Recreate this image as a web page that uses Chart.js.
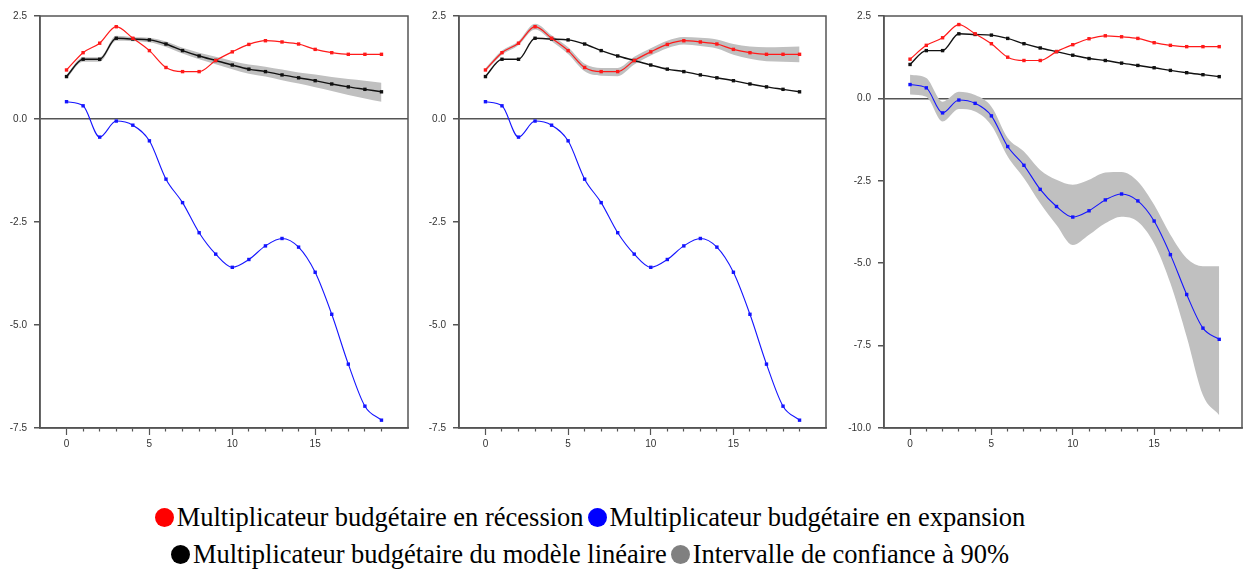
<!DOCTYPE html>
<html>
<head>
<meta charset="utf-8">
<script src="https://cdn.jsdelivr.net/npm/chart.js@4.4.1/dist/chart.umd.min.js"></script>
<style>
  body { margin: 0; background: #fff; width: 1246px; height: 569px; position: relative; overflow: hidden; }
  canvas.panel { position: absolute; top: 0; }
  #legend { position: absolute; left: 0; top: 499px; width: 1180px; font-family: "Liberation Serif", "Times New Roman", serif; font-size: 26.5px; color: #000; }
  #legend .row { display: flex; justify-content: center; align-items: center; height: 37px; white-space: nowrap; }
  #legend .item { display: flex; align-items: center; margin: 0 2px; }
  #legend .dot { width: 19px; height: 19px; border-radius: 50%; margin-right: 3px; }
</style>
</head>
<body>

<canvas class="panel" id="chart1" width="412" height="460" style="left:0px"></canvas>
<canvas class="panel" id="chart2" width="411" height="460" style="left:419px"></canvas>
<canvas class="panel" id="chart3" width="406" height="460" style="left:840px"></canvas>

<div id="legend">
  <div class="row">
    <div class="item"><span class="dot" style="background:#ff0000"></span>Multiplicateur budgétaire en récession</div>
    <div class="item"><span class="dot" style="background:#0000ff"></span>Multiplicateur budgétaire en expansion</div>
  </div>
  <div class="row">
    <div class="item"><span class="dot" style="background:#000000"></span>Multiplicateur budgétaire du modèle linéaire</div>
    <div class="item"><span class="dot" style="background:#808080"></span>Intervalle de confiance à 90%</div>
  </div>
</div>

<script>
  // horizons (quarters after the shock)
  const horizons = [0, 1, 2, 3, 4, 5, 6, 7, 8, 9, 10, 11, 12, 13, 14, 15, 16, 17, 18, 19];

  // multiplier estimates
  const recession = [1.19, 1.61, 1.84, 2.24, 1.96, 1.66, 1.25, 1.15, 1.15, 1.42, 1.63, 1.81, 1.90, 1.87, 1.82, 1.69, 1.61, 1.57, 1.57, 1.57];
  const expansion = [0.42, 0.32, -0.44, -0.05, -0.15, -0.53, -1.46, -2.03, -2.76, -3.28, -3.60, -3.41, -3.08, -2.90, -3.11, -3.72, -4.74, -5.95, -6.97, -7.31];
  const linear = [1.03, 1.45, 1.45, 1.96, 1.94, 1.92, 1.82, 1.66, 1.53, 1.42, 1.31, 1.21, 1.15, 1.07, 1.00, 0.93, 0.85, 0.78, 0.72, 0.66];

  // 90% confidence bounds
  const linearHi = [1.07, 1.50, 1.50, 2.02, 1.99, 1.97, 1.88, 1.73, 1.61, 1.51, 1.41, 1.32, 1.27, 1.20, 1.13, 1.08, 1.02, 0.97, 0.93, 0.88];
  const linearLo = [0.98, 1.39, 1.39, 1.90, 1.89, 1.86, 1.75, 1.59, 1.45, 1.33, 1.21, 1.10, 1.03, 0.94, 0.86, 0.77, 0.68, 0.58, 0.50, 0.42];
  const recessionHi = [1.23, 1.66, 1.89, 2.31, 2.03, 1.74, 1.34, 1.24, 1.24, 1.51, 1.72, 1.90, 1.99, 1.97, 1.93, 1.82, 1.76, 1.74, 1.75, 1.76];
  const recessionLo = [1.15, 1.56, 1.79, 2.17, 1.89, 1.58, 1.16, 1.05, 1.04, 1.32, 1.54, 1.72, 1.81, 1.77, 1.71, 1.56, 1.46, 1.40, 1.39, 1.38];
  const expansionHi = [0.72, 0.62, -0.10, 0.20, 0.10, -0.25, -1.20, -1.61, -2.17, -2.47, -2.62, -2.47, -2.25, -2.23, -2.52, -3.23, -4.14, -4.85, -5.09, -5.09];
  const expansionLo = [0.12, 0.05, -0.70, -0.32, -0.40, -0.82, -1.76, -2.42, -3.18, -3.84, -4.45, -4.14, -3.79, -3.59, -3.74, -4.40, -5.61, -7.23, -9.01, -9.61];

  // y tick steps
  const yTicksShort = [2.5, 0.0, -2.5, -5.0, -7.5];
  const yTicksLong = [2.5, 0.0, -2.5, -5.0, -7.5, -10.0];

  const AXIS = '#555555';
  const BAND = '#c0c0c0';

  function pts(ys) {
    return horizons.map((h, i) => ({ x: h, y: ys[i] }));
  }

  function line(label, ys, color, width) {
    return {
      label: label,
      data: pts(ys),
      borderColor: color,
      backgroundColor: color,
      borderWidth: width,
      pointStyle: 'rect',
      pointRadius: 2.4,
      pointBorderWidth: 0,
      pointBackgroundColor: color,
      cubicInterpolationMode: 'monotone',
      fill: false,
      order: 1
    };
  }

  function band(hi, lo) {
    return [
      { label: 'hi', data: pts(hi), borderWidth: 0, pointRadius: 0, fill: false,
        cubicInterpolationMode: 'monotone', order: 10 },
      { label: 'lo', data: pts(lo), borderWidth: 0, pointRadius: 0, fill: '-1',
        backgroundColor: BAND, cubicInterpolationMode: 'monotone', order: 10 }
    ];
  }

  // outline of the plotting area
  const frame = {
    id: 'frame',
    afterDraw(chart) {
      const a = chart.chartArea, c = chart.ctx;
      c.save();
      c.strokeStyle = AXIS;
      c.lineWidth = 1.5;
      c.strokeRect(a.left, a.top, a.right - a.left, a.bottom - a.top);
      c.restore();
    }
  };

  function makePanel(id, bandSets, yTicks, yAxisWidth, xMax) {
    const datasets = bandSets.concat([
      line('recession', recession, '#ff1a1a', 1.2),
      line('linear', linear, '#111111', 1.4),
      line('expansion', expansion, '#1414ff', 1.1)
    ]);
    new Chart(document.getElementById(id), {
      type: 'line',
      data: { datasets: datasets },
      plugins: [frame],
      options: {
        responsive: false,
        animation: false,
        layout: { padding: { top: 16, right: 4, left: 0, bottom: 0 } },
        plugins: { legend: { display: false }, tooltip: { enabled: false } },
        scales: {
          x: {
            type: 'linear',
            min: -1.6,
            max: xMax,
            afterBuildTicks: s => { s.ticks = horizons.map(v => ({ value: v })); },
            afterFit: s => { s.height = 32; },
            ticks: {
              autoSkip: false,
              maxRotation: 0,
              padding: 3,
              color: '#333',
              font: { family: 'Liberation Sans', size: 10 },
              callback: v => (v % 5 === 0 ? String(v) : '')
            },
            grid: {
              drawOnChartArea: false,
              drawTicks: true,
              tickLength: 7,
              tickColor: AXIS,
              tickWidth: 1.2,
              tickBorderDash: ctx => (ctx.tick && ctx.tick.value % 5 === 0 ? [] : [3, 20])
            },
            border: { display: true, color: AXIS, width: 1.5 }
          },
          y: {
            type: 'linear',
            min: yTicks[yTicks.length - 1],
            max: yTicks[0],
            afterBuildTicks: s => { s.ticks = yTicks.map(v => ({ value: v })); },
            afterFit: s => { s.width = yAxisWidth; },
            ticks: {
              padding: 7,
              color: '#333',
              font: { family: 'Liberation Sans', size: 10 },
              callback: v => Number(v).toFixed(1)
            },
            grid: {
              drawTicks: true,
              tickLength: 6,
              tickColor: AXIS,
              lineWidth: 1.5,
              color: ctx => (ctx.tick && ctx.tick.value === 0 ? AXIS : 'rgba(0,0,0,0)')
            },
            border: { display: true, color: AXIS, width: 1.5 }
          }
        }
      }
    });
  }

  makePanel('chart1', band(linearHi, linearLo), yTicksShort, 40, 20.6);
  makePanel('chart2', band(recessionHi, recessionLo), yTicksShort, 40, 20.6);
  makePanel('chart3', band(expansionHi, expansionLo), yTicksLong, 44, 20.4);
</script>
</body>
</html>
